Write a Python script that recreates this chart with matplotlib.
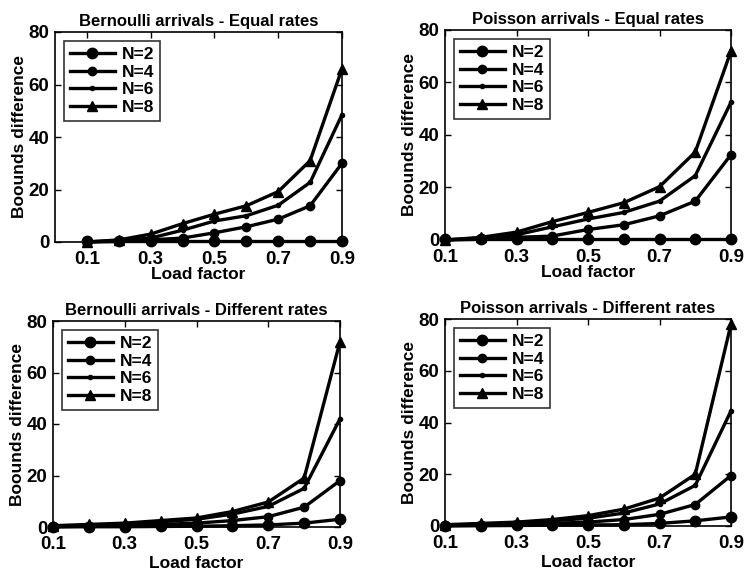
import matplotlib
matplotlib.use("Agg")
import matplotlib.pyplot as plt

plt.rcParams['font.family'] = ['Liberation Sans', 'DejaVu Sans']
plt.rcParams['font.weight'] = 'bold'

load = [0.1, 0.2, 0.3, 0.4, 0.5, 0.6, 0.7, 0.8, 0.9]
labels = ["N=2", "N=4", "N=6", "N=8"]
xticks = [0.1, 0.3, 0.5, 0.7, 0.9]
yticks = [0, 20, 40, 60, 80]

titles = ["Bernoulli arrivals - Equal rates", "Poisson arrivals - Equal rates",
          "Bernoulli arrivals - Different rates", "Poisson arrivals - Different rates"]

bern_equal = [
    [0.2, 0.2, 0.2, 0.2, 0.2, 0.2, 0.2, 0.2, 0.2],
    [0.0, 0.2, 0.8, 1.5, 3.5, 5.8, 8.7, 13.8, 30.0],
    [0.0, 0.5, 1.5, 4.5, 8.0, 10.0, 14.0, 22.7, 48.5],
    [0.0, 0.8, 3.0, 7.0, 10.6, 13.8, 19.2, 31.0, 66.0],
]
pois_equal = [
    [0.5, 0.5, 0.5, 0.5, 0.5, 0.5, 0.5, 0.5, 0.5],
    [0.0, 0.3, 1.0, 1.5, 4.0, 5.8, 9.2, 14.8, 32.5],
    [0.0, 0.7, 2.0, 5.0, 8.0, 10.5, 14.8, 24.5, 52.5],
    [0.0, 1.0, 3.0, 7.0, 10.5, 14.2, 20.3, 33.5, 72.0],
]
bern_diff = [
    [0.0, 0.1, 0.1, 0.2, 0.3, 0.5, 0.8, 1.5, 3.0],
    [0.2, 0.3, 0.5, 1.0, 1.5, 2.5, 4.0, 7.7, 18.0],
    [0.3, 0.5, 1.0, 2.0, 3.0, 5.0, 8.0, 15.0, 42.0],
    [0.5, 1.0, 1.5, 2.5, 3.5, 6.0, 9.7, 19.0, 72.0],
]
pois_diff = [
    [0.0, 0.1, 0.2, 0.3, 0.4, 0.5, 1.0, 2.0, 3.5],
    [0.2, 0.3, 0.5, 1.0, 1.5, 2.5, 4.5, 8.3, 19.5],
    [0.3, 0.5, 1.0, 2.0, 3.0, 5.0, 8.5, 15.7, 44.5],
    [0.5, 1.0, 1.5, 2.5, 4.0, 6.5, 10.8, 20.0, 78.0],
]
datasets = [bern_equal, pois_equal, bern_diff, pois_diff]
xlims = [(0.0, 0.9), (0.1, 0.9), (0.1, 0.9), (0.1, 0.9)]

markers = ['o', 'o', '.', '^']
msizes = [7.5, 6, 6, 7]

fig = plt.figure(figsize=(7.45, 5.78), dpi=100)
W, H = 745, 578
rects = [(55, 32, 342, 242), (445, 30, 731, 240), (53, 321, 340, 527), (445, 319, 731, 526)]
xlabelpads = [-1, -1, 2, 2]

for i in range(4):
    x0, y0, x1, y1 = rects[i]
    ax = fig.add_axes([x0 / W, 1 - y1 / H, (x1 - x0) / W, (y1 - y0) / H])
    for k, series in enumerate(datasets[i]):
        ax.plot(load, series, color='black', lw=2.4, marker=markers[k], ms=msizes[k],
                label=labels[k], clip_on=False, zorder=3)
    ax.set_xlim(*xlims[i])
    ax.set_ylim(0, 80)
    ax.set_xticks(xticks)
    ax.set_yticks(yticks)
    ax.set_xticklabels([f"{t:.1f}" for t in xticks])
    ax.tick_params(direction='in', top=True, right=True, labelsize=13.5, width=1, length=4)
    ax.tick_params(axis='x', pad=6.5)
    ax.tick_params(axis='y', pad=4)
    for lab in ax.get_xticklabels() + ax.get_yticklabels():
        lab.set_fontweight('bold')
    for s in ax.spines.values():
        s.set_linewidth(1.2)
    ax.set_title(titles[i], fontsize=12, fontweight='bold', pad=4)
    ax.set_xlabel("Load factor", fontsize=12.5, fontweight='bold', labelpad=xlabelpads[i])
    ax.set_ylabel("Boounds difference", fontsize=12.5, fontweight='bold', labelpad=1)
    leg = ax.legend(loc='upper left', fontsize=12.5, frameon=True, fancybox=False,
                    edgecolor='black', borderaxespad=0.5, handlelength=2.6,
                    labelspacing=0.15, borderpad=0.35, handletextpad=0.4)
    leg.get_frame().set_linewidth(1.2)

fig.savefig("out.png", dpi=100)
